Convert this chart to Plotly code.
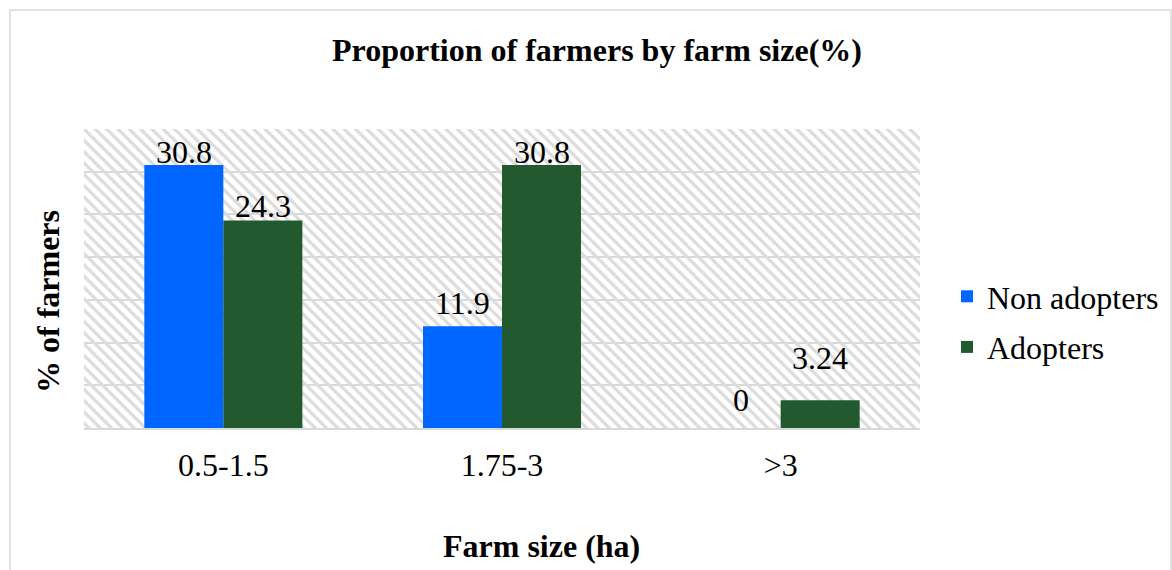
import plotly.graph_objects as go

categories = ["0.5-1.5", "1.75-3", ">3"]
non_adopters = [30.8, 11.9, 0]
adopters = [24.3, 30.8, 3.24]
series_names = ["Non adopters", "Adopters"]
y_max = 35
y_step = 5

# label placement (pixels above bar top, as in the original)
label_lift_non = [13, 23, 28]
label_lift_ad = [14, 13, 42]

FONT = "Liberation Serif, Times New Roman, serif"
BLUE = "#0066FF"
GREEN = "#22592f"
GRID = "#d9d9d9"

W, H = 1172, 570
L, R, T, B = 84, 2, 129, 142
PLOT_RIGHT = 920
BARGAP = 0.433
pw = W - L - R          # paper width
ph = H - T - B
dom_end = (PLOT_RIGHT - L) / pw
cat_px = (PLOT_RIGHT - L) / len(categories)
bar_px = cat_px * (1 - BARGAP) / 2

def px_x(x):
    return (x - L) / pw

def px_y(y):
    return (H - B - y) / ph

fig = go.Figure()

# hatched plot background (drawn on base axes, behind data)
fig.add_trace(go.Bar(
    x=[0.5], y=[y_max], width=[1], xaxis="x", yaxis="y",
    marker=dict(color="rgba(0,0,0,0)", line=dict(width=0),
                pattern=dict(shape="\\", fgcolor="#dcdcdc", bgcolor="rgba(0,0,0,0)",
                             size=8, solidity=0.4, fillmode="replace")),
    showlegend=False, hoverinfo="skip",
))

fig.add_trace(go.Bar(
    x=categories, y=non_adopters, name=series_names[0], xaxis="x2", yaxis="y2",
    marker=dict(color=BLUE, line=dict(width=0)),
    legendgroup="a", hoverinfo="skip",
))
fig.add_trace(go.Bar(
    x=categories, y=adopters, name=series_names[1], xaxis="x2", yaxis="y2",
    marker=dict(color=GREEN, line=dict(width=0)),
    legendgroup="b", hoverinfo="skip",
))

annotations = [
    dict(text="<b>Farm size (ha)</b>", xref="paper", yref="paper",
         x=px_x(541), y=px_y(546), xanchor="center", yanchor="middle",
         showarrow=False, font=dict(family=FONT, size=32, color="black")),
    dict(text="<b>% of farmers</b>", xref="paper", yref="paper",
         x=px_x(48), y=px_y(302), xanchor="center", yanchor="middle",
         textangle=-90, showarrow=False,
         font=dict(family=FONT, size=32, color="black")),
]
for vals, lifts, side in ((non_adopters, label_lift_non, -1), (adopters, label_lift_ad, 1)):
    for cat, v, lift in zip(categories, vals, lifts):
        annotations.append(dict(
            text=f"{v:g}", x=cat, y=v, xref="x2", yref="y2",
            xanchor="center", yanchor="middle", showarrow=False,
            xshift=side * bar_px / 2, yshift=lift,
            font=dict(family=FONT, size=32, color="black")))

fig.update_layout(
    width=W, height=H,
    margin=dict(l=L, r=R, t=T, b=B, pad=0),
    paper_bgcolor="white", plot_bgcolor="white",
    barmode="group", bargap=BARGAP, bargroupgap=0,
    font=dict(family=FONT, size=32, color="black"),
    title=dict(text="<b>Proportion of farmers by farm size(%)</b>",
               x=597 / W, xanchor="center", y=1 - 50 / H, yanchor="middle",
               yref="container", font=dict(family=FONT, size=32, color="black")),
    xaxis=dict(range=[0, 1], visible=False, fixedrange=True, domain=[0, dom_end]),
    yaxis=dict(range=[0, y_max], dtick=y_step, tick0=0, showgrid=True,
               gridcolor=GRID, gridwidth=2, showticklabels=False,
               zeroline=False, showline=False, ticks=""),
    xaxis2=dict(type="category", overlaying="x", anchor="y2", side="bottom",
                showline=True, linecolor=GRID, linewidth=2, showgrid=False,
                ticks="outside", ticklen=8, tickcolor="rgba(0,0,0,0)",
                tickfont=dict(family=FONT, size=32, color="black")),
    yaxis2=dict(range=[0, y_max], overlaying="y", anchor="x2", visible=False),
    legend=dict(x=px_x(1164), xanchor="right", y=px_y(322), yanchor="middle",
                traceorder="grouped", tracegroupgap=6,
                font=dict(family=FONT, size=32, color="black"),
                bgcolor="rgba(0,0,0,0)", borderwidth=0),
    showlegend=True,
    shapes=[dict(type="rect", xref="paper", yref="paper",
                 x0=px_x(10), x1=px_x(1171), y0=px_y(590), y1=px_y(10),
                 line=dict(color=GRID, width=1.5), fillcolor="rgba(0,0,0,0)",
                 layer="below")],
    annotations=annotations,
)

fig.write_html("out.html")
